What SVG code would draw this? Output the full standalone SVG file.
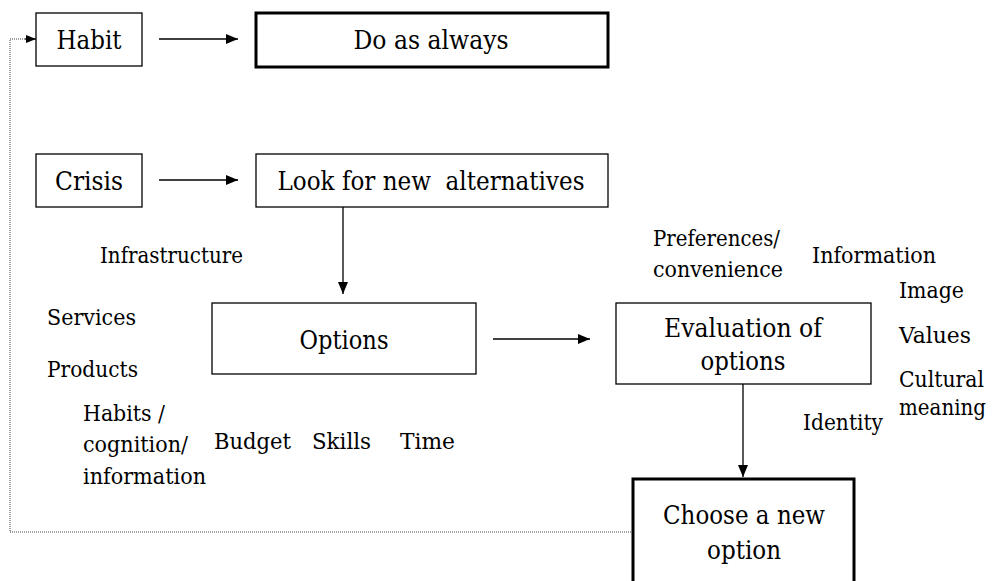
<svg xmlns="http://www.w3.org/2000/svg" width="998" height="581" viewBox="0 0 998 581">
<style>
  .box { fill: #fff; stroke: #000; stroke-width: 1.3; }
  .thick { fill: #fff; stroke: #000; stroke-width: 3; }
  .bt { font-family: 'DejaVu Serif', 'Liberation Serif', serif; font-size: 26px; fill: #000; text-anchor: middle; }
  .lb { font-family: 'DejaVu Serif', 'Liberation Serif', serif; font-size: 23px; fill: #000; }
  .conn { stroke: #000; stroke-width: 1.3; fill: none; }
  .dot { stroke: #444; stroke-width: 1; stroke-dasharray: 1 1; fill: none; }
</style>
<defs>
  <marker id="arr" viewBox="0 0 12 10" refX="12" refY="5" markerWidth="12" markerHeight="10" markerUnits="userSpaceOnUse" orient="auto">
    <path d="M0,0 L12,5 L0,10 Z" fill="#000"/>
  </marker>
  <marker id="arrs" viewBox="0 0 10 8" refX="10" refY="4" markerWidth="10" markerHeight="8" markerUnits="userSpaceOnUse" orient="auto">
    <path d="M0,0 L10,4 L0,8 Z" fill="#000"/>
  </marker>
</defs>

<g id="connectors">
  <line class="conn" x1="159" y1="39" x2="238" y2="39" marker-end="url(#arr)"/>
  <line class="conn" x1="159" y1="180" x2="238" y2="180" marker-end="url(#arr)"/>
  <line class="conn" x1="343" y1="207" x2="343" y2="294" marker-end="url(#arr)"/>
  <line class="conn" x1="493" y1="339" x2="590" y2="339" marker-end="url(#arr)"/>
  <line class="conn" x1="743" y1="384" x2="743" y2="477" marker-end="url(#arr)"/>
  <polyline class="dot" points="633,532 10,532 10,39 26,39"/>
  <line class="conn" x1="25" y1="39" x2="36" y2="39" stroke-width="1" marker-end="url(#arrs)"/>
</g>

<g id="habit">
  <rect class="box" x="36" y="13" width="106" height="53"/>
  <text class="bt" x="89" y="49" textLength="65" lengthAdjust="spacingAndGlyphs">Habit</text>
</g>
<g id="do-as-always">
  <rect class="thick" x="256" y="13" width="352" height="54"/>
  <text class="bt" x="431" y="49" textLength="155" lengthAdjust="spacingAndGlyphs">Do as always</text>
</g>
<g id="crisis">
  <rect class="box" x="36" y="154" width="106" height="53"/>
  <text class="bt" x="89" y="190" textLength="68" lengthAdjust="spacingAndGlyphs">Crisis</text>
</g>
<g id="look-for-new-alternatives">
  <rect class="box" x="256" y="154" width="352" height="53"/>
  <text class="bt" x="431" y="190" xml:space="preserve" textLength="307" lengthAdjust="spacingAndGlyphs">Look for new  alternatives</text>
</g>
<g id="options">
  <rect class="box" x="212" y="303" width="264" height="71"/>
  <text class="bt" x="344" y="349" textLength="89" lengthAdjust="spacingAndGlyphs">Options</text>
</g>
<g id="evaluation-of-options">
  <rect class="box" x="616" y="303" width="255" height="81"/>
  <text class="bt" x="743" y="337" textLength="158" lengthAdjust="spacingAndGlyphs">Evaluation of</text>
  <text class="bt" x="743" y="370" textLength="85" lengthAdjust="spacingAndGlyphs">options</text>
</g>
<g id="choose-a-new-option">
  <rect class="thick" x="633" y="479" width="221" height="130"/>
  <text class="bt" x="744" y="524" textLength="162" lengthAdjust="spacingAndGlyphs">Choose a new</text>
  <text class="bt" x="744" y="559" textLength="74" lengthAdjust="spacingAndGlyphs">option</text>
</g>

<g id="labels">
  <text class="lb" x="100" y="263" textLength="143" lengthAdjust="spacingAndGlyphs">Infrastructure</text>
  <text class="lb" x="47" y="325" textLength="89" lengthAdjust="spacingAndGlyphs">Services</text>
  <text class="lb" x="47" y="377" textLength="91" lengthAdjust="spacingAndGlyphs">Products</text>
  <text class="lb" x="83" y="421" textLength="82" lengthAdjust="spacingAndGlyphs">Habits /</text>
  <text class="lb" x="83" y="452" textLength="105" lengthAdjust="spacingAndGlyphs">cognition/</text>
  <text class="lb" x="83" y="484" textLength="123" lengthAdjust="spacingAndGlyphs">information</text>
  <text class="lb" x="214" y="449" textLength="77" lengthAdjust="spacingAndGlyphs">Budget</text>
  <text class="lb" x="312" y="449" textLength="59" lengthAdjust="spacingAndGlyphs">Skills</text>
  <text class="lb" x="400" y="449" textLength="55" lengthAdjust="spacingAndGlyphs">Time</text>
  <text class="lb" x="653" y="246" textLength="127" lengthAdjust="spacingAndGlyphs">Preferences/</text>
  <text class="lb" x="653" y="277" textLength="130" lengthAdjust="spacingAndGlyphs">convenience</text>
  <text class="lb" x="812" y="263" textLength="124" lengthAdjust="spacingAndGlyphs">Information</text>
  <text class="lb" x="899" y="298" textLength="65" lengthAdjust="spacingAndGlyphs">Image</text>
  <text class="lb" x="899" y="343" textLength="72" lengthAdjust="spacingAndGlyphs">Values</text>
  <text class="lb" x="899" y="387" textLength="85" lengthAdjust="spacingAndGlyphs">Cultural</text>
  <text class="lb" x="899" y="415" font-size="20" textLength="87" lengthAdjust="spacingAndGlyphs">meaning</text>
  <text class="lb" x="803" y="430" textLength="80" lengthAdjust="spacingAndGlyphs">Identity</text>
</g>
</svg>
